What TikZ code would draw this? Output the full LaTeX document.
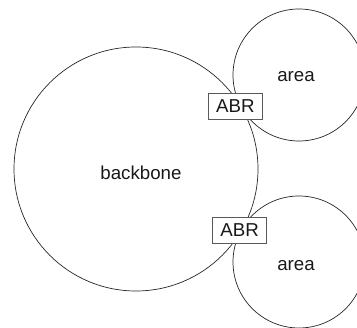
\documentclass[tikz,border=0pt]{standalone}
\usepackage{fontspec}
\setmainfont{Liberation Sans}
\begin{document}
\begin{tikzpicture}[x=1pt,y=-1pt,
  region/.style={draw=black!85,line width=0.7pt,circle,inner sep=0pt},
  abrbox/.style={draw=black!65,fill=white,line width=0.8pt,minimum width=54pt,minimum height=26pt,inner sep=0pt,font=\fontsize{18.7}{22}\selectfont,text=black!90},
  lbl/.style={font=\fontsize{18.7}{22}\selectfont,text=black!90}]
\useasboundingbox (0,0) rectangle (357,328);
\clip (0,0) rectangle (357,328);
\node[region,minimum size=244pt] (bb) at (136,169) {};
\node[region,minimum size=132pt] (a1) at (299,75) {};
\node[region,minimum size=132pt] (a2) at (299,262) {};
\node[lbl] (bbl) at (141,173) {backbone};
\node[lbl] (a1l) at (296,77) {area};
\node[lbl] (a2l) at (296,266) {area};
\node[abrbox] (abr1) at (235.3,106.2) {ABR};
\node[abrbox] (abr2) at (239.7,230) {ABR};
\end{tikzpicture}
\end{document}
